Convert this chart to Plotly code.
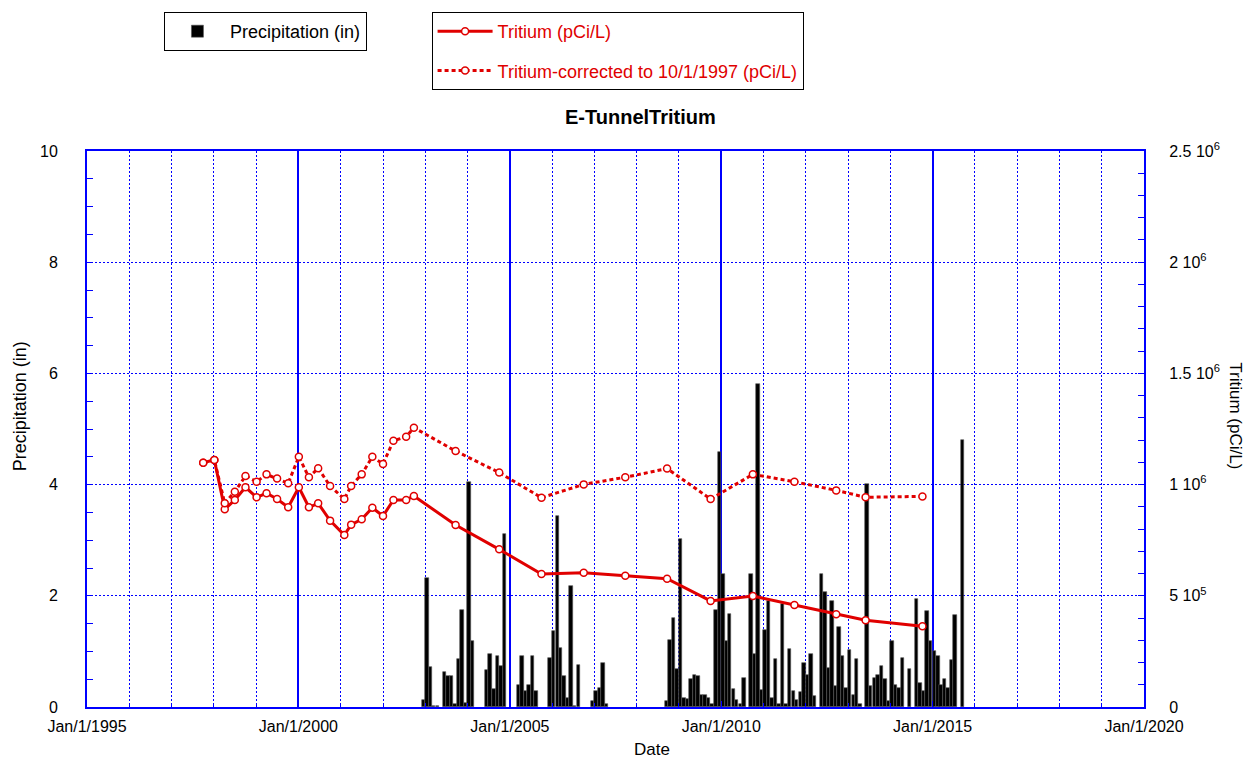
import plotly.graph_objects as go

# ── Data ──

# monthly precipitation (in)
precip_month = [
    "2002-12", "2003-01", "2003-02", "2003-03", "2003-04", "2003-06", "2003-07", "2003-08",
    "2003-09", "2003-10", "2003-11", "2003-12", "2004-01", "2004-02", "2004-06", "2004-07",
    "2004-08", "2004-09", "2004-10", "2004-11", "2005-03", "2005-04", "2005-05", "2005-06",
    "2005-07", "2005-08", "2005-12", "2006-01", "2006-02", "2006-03", "2006-04", "2006-05",
    "2006-06", "2006-07", "2006-08", "2006-12", "2007-01", "2007-02", "2007-03", "2007-04",
    "2008-09", "2008-10", "2008-11", "2008-12", "2009-01", "2009-02", "2009-03", "2009-04",
    "2009-05", "2009-06", "2009-07", "2009-08", "2009-09", "2009-10", "2009-11", "2009-12",
    "2010-01", "2010-02", "2010-03", "2010-04", "2010-05", "2010-06", "2010-07", "2010-09",
    "2010-10", "2010-11", "2010-12", "2011-01", "2011-02", "2011-03", "2011-04", "2011-05",
    "2011-06", "2011-07", "2011-08", "2011-09", "2011-10", "2011-11", "2011-12", "2012-01",
    "2012-02", "2012-03", "2012-05", "2012-06", "2012-07", "2012-08", "2012-09", "2012-10",
    "2012-11", "2012-12", "2013-01", "2013-02", "2013-03", "2013-04", "2013-06", "2013-07",
    "2013-08", "2013-09", "2013-10", "2013-11", "2013-12", "2014-01", "2014-02", "2014-03",
    "2014-04", "2014-06", "2014-08", "2014-09", "2014-10", "2014-11", "2014-12", "2015-01",
    "2015-02", "2015-03", "2015-04", "2015-05", "2015-06", "2015-07", "2015-09",
]
precip_in = [
    0.12, 2.32, 0.72, 0.02, 0.02, 0.63, 0.56, 0.56,
    0.05, 0.87, 1.75, 0.08, 4.05, 1.18, 0.66, 0.96,
    0.32, 0.91, 0.74, 3.12, 0.40, 0.91, 0.29, 0.40,
    0.91, 0.29, 0.89, 1.37, 3.44, 1.07, 0.55, 0.16,
    2.18, 0.02, 0.75, 0.10, 0.29, 0.34, 0.79, 0.05,
    0.10, 1.20, 1.60, 0.68, 3.02, 0.16, 0.14, 0.50,
    0.58, 0.55, 0.22, 0.22, 0.16, 0.05, 1.74, 4.59,
    2.40, 1.19, 1.67, 0.32, 0.13, 0.05, 0.52, 2.40,
    0.96, 5.81, 0.30, 1.38, 1.90, 0.16, 0.86, 0.05,
    1.86, 0.05, 1.04, 0.29, 0.13, 0.27, 0.79, 0.58,
    0.96, 0.19, 2.40, 2.06, 0.71, 1.90, 0.38, 1.43,
    0.92, 0.34, 1.03, 0.22, 0.86, 0.05, 4.01, 0.38,
    0.52, 0.58, 0.74, 0.50, 0.10, 1.19, 0.40, 0.35,
    0.89, 0.68, 1.95, 0.43, 0.28, 1.73, 1.19, 1.01,
    0.92, 0.40, 0.50, 0.34, 0.85, 1.65, 4.80,
]

# tritium sampling dates
sample_dates = [
    "1997-10-01", "1998-01-05", "1998-04-05", "1998-07-01", "1998-10-01", "1999-01-05",
    "1999-04-01", "1999-07-01", "1999-10-05", "2000-01-05", "2000-04-01", "2000-06-20",
    "2000-10-01", "2001-02-01", "2001-04-01", "2001-07-01", "2001-10-01", "2002-01-01",
    "2002-04-01", "2002-07-20", "2002-09-25", "2003-09-20", "2004-10-01", "2005-10-01",
    "2006-10-01", "2007-09-25", "2008-09-20", "2009-10-01", "2010-10-01", "2011-09-25",
    "2012-09-20", "2013-06-01", "2014-10-05",
]
tritium = [
    1098000, 1111000, 889000, 931000, 988000, 943000,
    961000, 935000, 898000, 988000, 898000, 916000,
    838000, 773000, 820000, 844000, 896000, 859000,
    931000, 931000, 949000, 818000, 709000, 598000,
    604000, 590000, 577000, 477000, 499000, 459000,
    417000, 390000, 363000,
]
tritium_corr = [
    1098000, 1111000, 916000, 968000, 1039000, 1013000,
    1046000, 1027000, 1006000, 1125000, 1033000, 1073000,
    994000, 935000, 994000, 1046000, 1125000, 1093000,
    1197000, 1215000, 1256000, 1151000, 1054000, 941000,
    1001000, 1033000, 1072000, 935000, 1046000, 1013000,
    974000, 943000, 947000,
]

# right axis labels
t2_vals = [0, 500000, 1000000, 1500000, 2000000, 2500000]
t2_text = ["0", "5 10<sup>5</sup>", "1 10<sup>6</sup>", "1.5 10<sup>6</sup>",
           "2 10<sup>6</sup>", "2.5 10<sup>6</sup>"]

RED = "#e00000"
BLUE = "#0000ff"
FONT = "Liberation Sans, Arial, sans-serif"

fig = go.Figure()

fig.add_trace(go.Bar(
    x=[m + "-15" for m in precip_month], y=precip_in,
    name="Precipitation (in)",
    marker=dict(color="black", line=dict(color="#555555", width=0.6)),
    width=30 * 86400000,
    legend="legend", showlegend=True,
))

fig.add_trace(go.Scatter(
    x=sample_dates, y=tritium, yaxis="y2",
    name="Tritium (pCi/L)", mode="lines+markers",
    line=dict(color=RED, width=3),
    marker=dict(symbol="circle", size=7, color="white", line=dict(color=RED, width=1.5)),
    legend="legend2", legendgroup="a",
))
fig.add_trace(go.Scatter(
    x=sample_dates, y=tritium_corr, yaxis="y2",
    name="Tritium-corrected to 10/1/1997 (pCi/L)", mode="lines+markers",
    line=dict(color=RED, width=3, dash="4px,3px"),
    marker=dict(symbol="circle", size=7, color="white", line=dict(color=RED, width=1.5)),
    legend="legend2", legendgroup="b",
))

fig.update_layout(
    width=1250, height=761,
    showlegend=True,
    paper_bgcolor="white", plot_bgcolor="white",
    font=dict(family=FONT, size=16, color="black"),
    margin=dict(l=87, r=106, t=151, b=54),
    bargap=0,
    xaxis=dict(
        type="date", range=["1995-01-01", "2020-01-01"],
        tick0="1995-01-01", dtick="M60", tickformat="%b/%-d/%Y",
        showline=True, linecolor=BLUE, linewidth=2, mirror=True,
        showgrid=True, gridcolor=BLUE, gridwidth=1.5,
        ticks="inside", ticklen=6, tickcolor=BLUE,
        minor=dict(dtick="M12", showgrid=True, gridcolor=BLUE, griddash="2px,2px",
                   gridwidth=1, ticks="inside", ticklen=4, tickcolor=BLUE),
        zeroline=False, tickfont=dict(size=16), ticklabelstandoff=4,
        automargin=False,
    ),
    yaxis=dict(
        range=[0, 10], dtick=2,
        showline=True, linecolor=BLUE, linewidth=2, mirror=True,
        showgrid=True, gridcolor=BLUE, griddash="2px,2px", gridwidth=1,
        ticks="inside", ticklen=6, tickcolor=BLUE,
        minor=dict(dtick=0.5, ticks="inside", ticklen=6, tickcolor=BLUE, showgrid=False),
        zeroline=False, ticklabelstandoff=24, tickfont=dict(size=16),
        automargin=False,
    ),
    yaxis2=dict(
        range=[0, 2500000], overlaying="y", side="right",
        tickvals=t2_vals, ticktext=t2_text,
        showline=True, linecolor=BLUE, linewidth=2,
        showgrid=False, zeroline=False,
        ticks="inside", ticklen=6, tickcolor=BLUE,
        minor=dict(dtick=100000, ticks="inside", ticklen=6, tickcolor=BLUE, showgrid=False),
        ticklabelstandoff=20, tickfont=dict(size=16),
        automargin=False,
    ),
    legend=dict(
        x=0.0728, y=1.25, xanchor="left", yanchor="top",
        bordercolor="black", borderwidth=1, bgcolor="white",
        font=dict(size=18, color="black"), itemwidth=55,
    ),
    legend2=dict(
        x=0.326, y=1.25, xanchor="left", yanchor="top",
        bordercolor="black", borderwidth=1, bgcolor="white",
        font=dict(size=18, color=RED), tracegroupgap=13, itemwidth=55,
    ),
    annotations=[
        dict(text="<b>E-TunnelTritium</b>", x=0.524, y=1.061, xref="paper", yref="paper",
             xanchor="center", yanchor="middle", showarrow=False, font=dict(size=20)),
        dict(text="Date", x=0.5345, y=-0.0773, xref="paper", yref="paper",
             xanchor="center", yanchor="middle", showarrow=False, font=dict(size=17)),
        dict(text="Precipitation (in)", x=-0.0634, y=0.541, xref="paper", yref="paper",
             xanchor="center", yanchor="middle", showarrow=False, textangle=-90,
             font=dict(size=18)),
        dict(text="Tritium (pCi/L)", x=1.087, y=0.523, xref="paper", yref="paper",
             xanchor="center", yanchor="middle", showarrow=False, textangle=90,
             font=dict(size=17)),
    ],
)

fig.write_html("out.html", config={"displayModeBar": False},
               post_script="document.body.style.margin='0';")
